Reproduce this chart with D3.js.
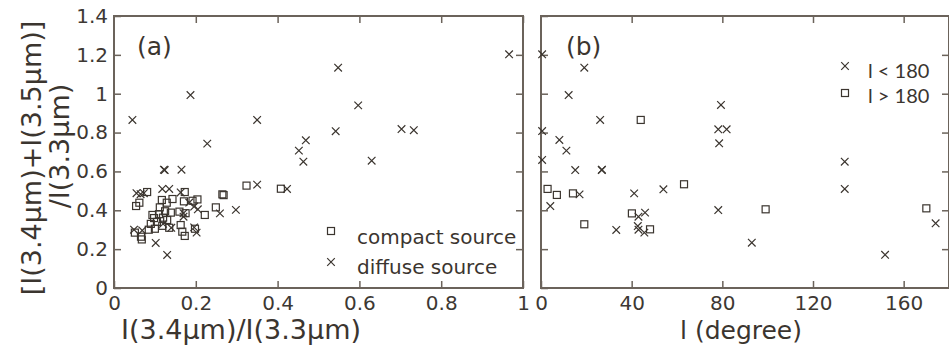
<!DOCTYPE html>
<html>
<head>
<meta charset="utf-8">
<script src="https://cdn.jsdelivr.net/npm/d3@7"></script>
<style>
  body { margin: 0; background: #fff; }
  svg { display: block; }
  .tick text { font-family: "Comic Sans MS", "DejaVu Sans", sans-serif; font-size: 20px; fill: #3d3833; }
  .tick line { stroke: #6b635b; stroke-width: 1.5; }
</style>
</head>
<body>
<div class="visual"></div>
<script>
const width = 949;
const height = 350;

// panel (a): I(3.4)/I(3.3) vs [I(3.4)+I(3.5)]/I(3.3)
const compactA = [
  [0.324, 0.527], [0.408, 0.511], [0.081, 0.494], [0.173, 0.494], [0.265, 0.482],
  [0.268, 0.478], [0.054, 0.422], [0.062, 0.439], [0.117, 0.453], [0.129, 0.439],
  [0.143, 0.458], [0.171, 0.446], [0.192, 0.449], [0.204, 0.456], [0.249, 0.415],
  [0.222, 0.376], [0.160, 0.393], [0.175, 0.385], [0.139, 0.388], [0.094, 0.376],
  [0.110, 0.380], [0.098, 0.360], [0.120, 0.362], [0.130, 0.350], [0.105, 0.340],
  [0.090, 0.330], [0.118, 0.320], [0.135, 0.310], [0.100, 0.305], [0.085, 0.300],
  [0.163, 0.324], [0.167, 0.290], [0.173, 0.268], [0.198, 0.305], [0.051, 0.285],
  [0.066, 0.264], [0.068, 0.250], [0.125, 0.395], [0.112, 0.415]
];
const diffuseA = [
  [0.966, 1.203], [0.548, 1.134], [0.187, 0.993], [0.597, 0.940], [0.045, 0.865],
  [0.350, 0.865], [0.542, 0.807], [0.703, 0.818], [0.733, 0.812], [0.228, 0.743],
  [0.469, 0.760], [0.452, 0.707], [0.463, 0.650], [0.630, 0.655], [0.122, 0.609],
  [0.124, 0.607], [0.165, 0.609], [0.350, 0.532], [0.423, 0.510], [0.118, 0.510],
  [0.135, 0.510], [0.055, 0.488], [0.073, 0.488], [0.163, 0.492], [0.065, 0.483],
  [0.049, 0.300], [0.069, 0.296], [0.102, 0.232], [0.130, 0.170], [0.205, 0.405],
  [0.259, 0.384], [0.298, 0.402], [0.170, 0.385], [0.196, 0.312], [0.202, 0.285],
  [0.184, 0.440], [0.196, 0.419], [0.170, 0.367], [0.120, 0.330], [0.140, 0.310]
];

// panel (b): galactic longitude l vs same ratio
const compactB = [
  [2.9, 0.510], [7.0, 0.479], [14.1, 0.487], [19.1, 0.328], [40.1, 0.384],
  [44.0, 0.865], [48.1, 0.302], [63.1, 0.534], [99.1, 0.405], [170.0, 0.410]
];
const diffuseB = [
  [0.5, 1.203], [0.5, 0.808], [0.5, 0.659], [19.1, 1.134], [12.2, 0.993],
  [79.4, 0.942], [26.1, 0.865], [78.2, 0.817], [81.9, 0.817], [8.1, 0.762],
  [11.2, 0.707], [15.1, 0.607], [26.8, 0.607], [26.9, 0.609], [78.6, 0.745],
  [134.0, 0.650], [134.0, 0.510], [17.0, 0.482], [4.1, 0.422], [41.1, 0.487],
  [54.0, 0.508], [43.0, 0.367], [45.9, 0.388], [33.2, 0.299], [42.7, 0.319],
  [43.0, 0.300], [45.6, 0.285], [78.2, 0.401], [93.0, 0.233], [174.1, 0.333],
  [151.8, 0.171]
];

const yTicks = [0, 0.2, 0.4, 0.6, 0.8, 1, 1.2, 1.4];
const xTicksA = [0, 0.2, 0.4, 0.6, 0.8, 1];
const xTicksB = [0, 40, 80, 120, 160];

const ink = "#3b352f";
const frame = "#6b635b";
const comic = "'Comic Sans MS', 'DejaVu Sans', sans-serif";
const cross = "M-3.8,-3.8L3.8,3.8M-3.8,3.8L3.8,-3.8";

const svg = d3
  .select(".visual")
  .append("svg")
  .attr("width", width)
  .attr("height", height);

const plotTop = 16, plotBottom = 288;
const y = d3.scaleLinear().domain([0, 1.4]).range([plotBottom, plotTop]);
const xA = d3.scaleLinear().domain([0, 1]).range([114, 523]);
const xB = d3.scaleLinear().domain([0, 180]).range([541, 949]);

const fmt = (d) => String(+d.toFixed(1));

function panel(x, xTicks, showY) {
  const [x0, x1] = x.range();
  const g = svg.append("g");

  g.append("g")
    .attr("transform", `translate(0,${plotBottom})`)
    .call(d3.axisBottom(x).tickValues(xTicks).tickSizeInner(-7).tickSizeOuter(0).tickPadding(8).tickFormat(fmt))
    .call((s) => s.select(".domain").remove());
  g.append("g")
    .attr("transform", `translate(0,${plotTop})`)
    .call(d3.axisTop(x).tickValues(xTicks.slice(1)).tickSizeInner(-7).tickSizeOuter(0).tickFormat(""))
    .call((s) => s.select(".domain").remove());
  g.append("g")
    .attr("transform", `translate(${x0},0)`)
    .call(d3.axisLeft(y).tickValues(yTicks).tickSizeInner(-7).tickSizeOuter(0).tickPadding(6)
      .tickFormat(showY ? fmt : ""))
    .call((s) => s.select(".domain").remove());
  g.append("g")
    .attr("transform", `translate(${x1},0)`)
    .call(d3.axisRight(y).tickValues(yTicks.slice(1, -1)).tickSizeInner(-7).tickSizeOuter(0).tickFormat(""))
    .call((s) => s.select(".domain").remove());

  g.append("rect")
    .attr("x", x0).attr("y", plotTop)
    .attr("width", x1 - x0).attr("height", plotBottom - plotTop)
    .attr("fill", "none")
    .attr("stroke", frame)
    .attr("stroke-width", 2);
  return g;
}

function crosses(g, data, x) {
  g.selectAll(null)
    .data(data)
    .enter()
    .append("path")
    .attr("transform", (d) => `translate(${x(d[0])},${y(d[1])})`)
    .attr("d", cross)
    .attr("fill", "none")
    .attr("stroke", ink)
    .attr("stroke-width", 1.2);
}

function squares(g, data, x) {
  g.selectAll(null)
    .data(data)
    .enter()
    .append("rect")
    .attr("x", (d) => x(d[0]) - 3.5)
    .attr("y", (d) => y(d[1]) - 3.5)
    .attr("width", 7)
    .attr("height", 7)
    .attr("fill", "none")
    .attr("stroke", ink)
    .attr("stroke-width", 1.2);
}

const gA = panel(xA, xTicksA, true);
squares(gA, compactA, xA);
crosses(gA, diffuseA, xA);

const gB = panel(xB, xTicksB, false);
squares(gB, compactB, xB);
crosses(gB, diffuseB, xB);

// panel labels
svg.append("text").attr("x", 137).attr("y", 55).text("(a)")
  .attr("font-family", comic).attr("font-size", 25).attr("fill", ink);
svg.append("text").attr("x", 566).attr("y", 55).text("(b)")
  .attr("font-family", comic).attr("font-size", 25).attr("fill", ink);

// axis titles
svg.append("text").attr("x", 241).attr("y", 339).attr("text-anchor", "middle")
  .text("I(3.4\u03bcm)/I(3.3\u03bcm)")
  .attr("font-family", comic).attr("font-size", 27).attr("fill", ink);
svg.append("text").attr("x", 741).attr("y", 339).attr("text-anchor", "middle")
  .text("l (degree)")
  .attr("font-family", comic).attr("font-size", 25).attr("fill", ink);
svg.append("text")
  .attr("transform", "translate(41,158) rotate(-90)")
  .attr("text-anchor", "middle")
  .text("[I(3.4\u03bcm)+I(3.5\u03bcm)]")
  .attr("font-family", comic).attr("font-size", 27).attr("fill", ink);
svg.append("text")
  .attr("transform", "translate(69,146) rotate(-90)")
  .attr("text-anchor", "middle")
  .text("/I(3.3\u03bcm)")
  .attr("font-family", comic).attr("font-size", 27).attr("fill", ink);

// legend (a)
svg.append("rect").attr("x", 327.5).attr("y", 227.5).attr("width", 7).attr("height", 7)
  .attr("fill", "none").attr("stroke", ink).attr("stroke-width", 1.2);
svg.append("path").attr("transform", "translate(331,262)")
  .attr("d", cross).attr("stroke", ink).attr("stroke-width", 1.2);
svg.append("text").attr("x", 357).attr("y", 244).text("compact source")
  .attr("font-family", comic).attr("font-size", 20).attr("fill", ink);
svg.append("text").attr("x", 357).attr("y", 274).text("diffuse source")
  .attr("font-family", comic).attr("font-size", 20).attr("fill", ink);

// legend (b)
svg.append("path").attr("transform", "translate(845,66)")
  .attr("d", cross).attr("stroke", ink).attr("stroke-width", 1.2);
svg.append("rect").attr("x", 841.5).attr("y", 89.5).attr("width", 7).attr("height", 7)
  .attr("fill", "none").attr("stroke", ink).attr("stroke-width", 1.2);
svg.append("text").attr("x", 868).attr("y", 78).text("l < 180")
  .attr("font-family", "Lato, sans-serif").attr("font-size", 20).attr("fill", ink);
svg.append("text").attr("x", 868).attr("y", 103).text("l > 180")
  .attr("font-family", "Lato, sans-serif").attr("font-size", 20).attr("fill", ink);
</script>
</body>
</html>
